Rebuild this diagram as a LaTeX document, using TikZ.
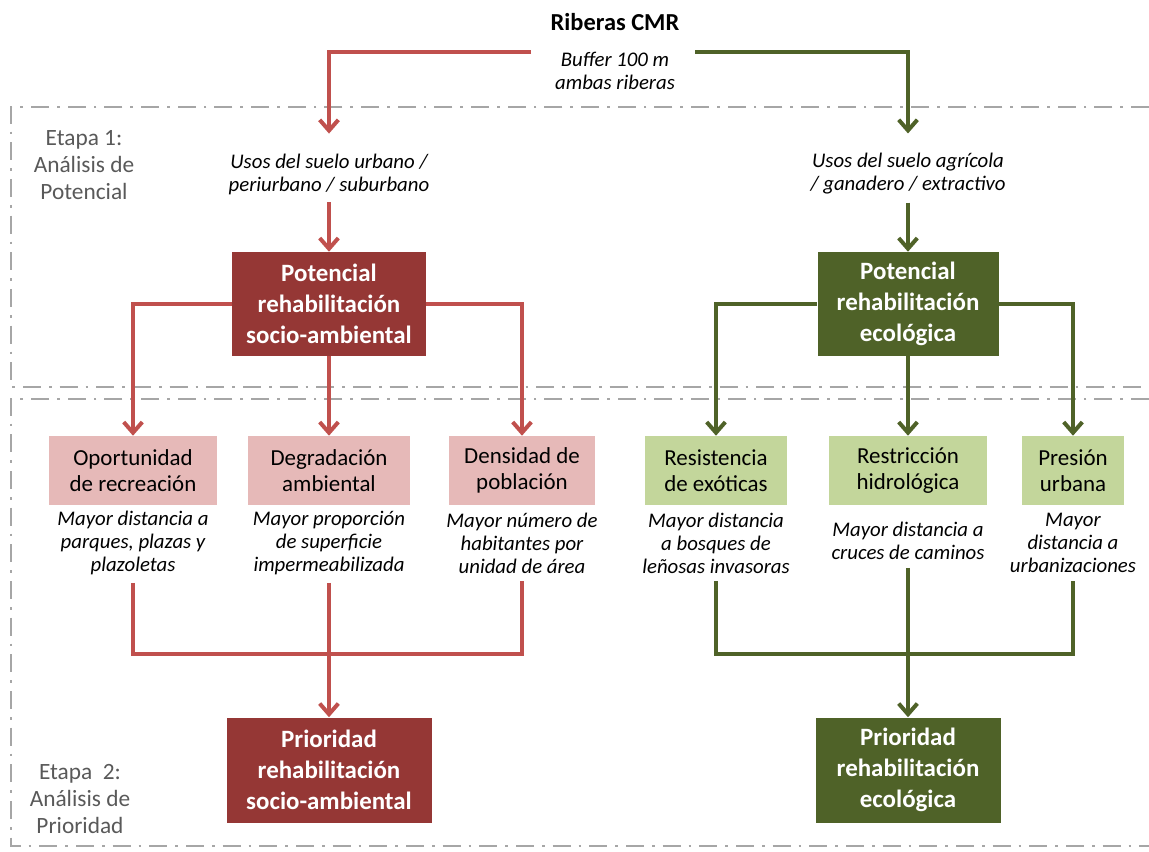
\documentclass[tikz,border=0pt]{standalone}
\usepackage{fontspec}
\setmainfont{Carlito}
\usetikzlibrary{arrows.meta}
\definecolor{rojoosc}{HTML}{953735}
\definecolor{rojolin}{HTML}{C0504D}
\definecolor{rosado}{HTML}{E6B9B8}
\definecolor{verdeosc}{HTML}{4F6228}
\definecolor{verdecla}{HTML}{C3D69B}
\definecolor{grisetapa}{HTML}{A6A6A6}
\definecolor{gristexto}{HTML}{595959}
\tikzset{
  principal/.style={text=white, align=center, inner sep=0pt,
    font=\fontsize{18.7}{23}\selectfont\bfseries},
  indicador/.style={align=center, inner sep=0pt,
    font=\fontsize{17.2}{19.5}\selectfont},
  nota/.style={align=center, inner sep=2pt, outer sep=4pt,
    font=\fontsize{15.6}{17.3}\selectfont\itshape},
  etapa/.style={align=center, text=gristexto,
    font=\fontsize{17.5}{20}\selectfont},
  lineaR/.style={draw=rojolin, line width=3pt},
  lineaV/.style={draw=verdeosc, line width=3pt},
  flecha/.style={-{Straight Barb[length=8pt,width=14pt]}},
  limite/.style={draw=grisetapa, line width=1.6pt,
    dash pattern=on 13.5pt off 6pt on 2pt off 6pt}
}
\begin{document}
\begin{tikzpicture}[x=0.75pt,y=-0.75pt]
\useasboundingbox (0,0) rectangle (1149,852);

% etapas
\draw[limite] (1149,107) -- (11,107) -- (11,387) -- (1149,387);
\draw[limite] (1149,399) -- (11,399) -- (11,846) -- (1149,846);
\node[etapa] (etapa1) at (84,165) {Etapa 1:\\Análisis de\\Potencial};
\node[etapa] (etapa2) at (80,799) {Etapa~ 2:\\Análisis de\\Prioridad};

% origen
\node[font=\fontsize{18.3}{22}\selectfont\bfseries] (riberas) at (615,22) {Riberas CMR};
\node[nota] (buffer) at (615,71) {Buffer 100 m\\ambas riberas};
\coordinate (bufR) at (531,52);
\coordinate (bufV) at (695,52);

% usos del suelo
\node[nota] (usosU) at (329,174) {Usos del suelo urbano /\\periurbano / suburbano};
\node[nota] (usosA) at (908,174) {Usos del suelo agrícola\\/ ganadero / extractivo};

% potencial
\node[principal, fill=rojoosc, minimum width=145.5pt, minimum height=78pt] (potSA) at (329,304)
  {Potencial\\rehabilitación\\socio-ambiental};
\node[principal, fill=verdeosc, minimum width=135.75pt, minimum height=78pt] (potEco) at (908,304)
  {Potencial\\rehabilitación\\ecológica};

% indicadores
\node[indicador, fill=rosado, minimum width=126pt, minimum height=51.75pt] (oport) at (133,470.5)
  {Oportunidad\\de recreación};
\node[indicador, fill=rosado, minimum width=122pt, minimum height=51.75pt] (degr) at (329,470.5)
  {Degradación\\ambiental};
\node[indicador, fill=rosado, minimum width=109.5pt, minimum height=51.75pt] (dens) at (522,470.5)
  {Densidad de\\población};
\node[indicador, fill=verdecla, minimum width=107pt, minimum height=51.75pt] (resist) at (716,470.5)
  {Resistencia\\de exóticas};
\node[indicador, fill=verdecla, minimum width=118.5pt, minimum height=51.75pt] (restr) at (908,470.5)
  {Restricción\\hidrológica};
\node[indicador, fill=verdecla, minimum width=77pt, minimum height=51.75pt] (presion) at (1073,470.5)
  {Presión\\urbana};

\node[nota] (nOport) at (133,543) {Mayor distancia a\\parques, plazas y\\plazoletas};
\node[nota] (nDegr) at (329,543) {Mayor proporción\\de superficie\\impermeabilizada};
\node[nota] (nDens) at (522,543) {Mayor número de\\habitantes por\\unidad de área};
\node[nota] (nResist) at (716,543) {Mayor distancia\\a bosques de\\leñosas invasoras};
\node[nota] (nRestr) at (908,541) {Mayor distancia a\\cruces de caminos};
\node[nota] (nPresion) at (1073,543) {Mayor\\distancia a\\urbanizaciones};

% prioridad
\node[principal, fill=rojoosc, minimum width=153.75pt, minimum height=78.75pt] (prioSA) at (329,770)
  {Prioridad\\rehabilitación\\socio-ambiental};
\node[principal, fill=verdeosc, minimum width=138.75pt, minimum height=78.75pt] (prioEco) at (908,770)
  {Prioridad\\rehabilitación\\ecológica};
\coordinate (juntaR) at (329,654);
\coordinate (juntaV) at (908,654);

% conectores rojos
\draw[lineaR, flecha, shorten >=9pt] (bufR) -| (usosU.north);
\draw[lineaR, flecha] (usosU.south) -- (potSA.north);
\draw[lineaR, flecha] (potSA.west) -| (oport.north);
\draw[lineaR, flecha] (potSA.south) -- (degr.north);
\draw[lineaR, flecha] (potSA.east) -| (dens.north);
\draw[lineaR] (nOport.south) |- (juntaR) -| (nDens.south);
\draw[lineaR, flecha] (nDegr.south) -- (prioSA.north);

% conectores verdes
\draw[lineaV, flecha, shorten >=9pt] (bufV) -| (usosA.north);
\draw[lineaV, flecha] (usosA.south) -- (potEco.north);
\draw[lineaV, flecha] (potEco.west) -| (resist.north);
\draw[lineaV, flecha] (potEco.south) -- (restr.north);
\draw[lineaV, flecha] (potEco.east) -| (presion.north);
\draw[lineaV] (nResist.south) |- (juntaV) -| (nPresion.south);
\draw[lineaV, flecha] (nRestr.south) -- (prioEco.north);
\end{tikzpicture}
\end{document}
